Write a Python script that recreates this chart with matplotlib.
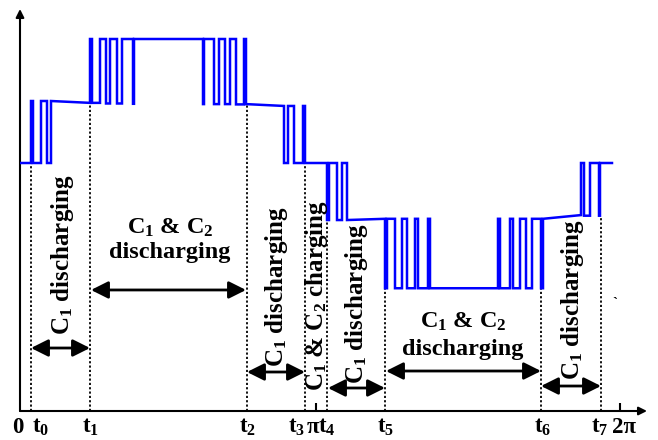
import matplotlib
matplotlib.use("Agg")
import matplotlib.pyplot as plt

plt.rcParams['font.family'] = ['Liberation Serif', 'DejaVu Serif']
plt.rcParams['font.weight'] = 'bold'
plt.rcParams['mathtext.fontset'] = 'custom'
plt.rcParams['mathtext.rm'] = 'Liberation Serif:bold'
plt.rcParams['mathtext.it'] = 'Liberation Serif:bold'
plt.rcParams['mathtext.bf'] = 'Liberation Serif:bold'

# ---- waveform: each hold starts at hold_x, runs from value hold_v0 to hold_v1 ----
hold_x = [0, 6.6, 7.8, 12.6, 16.2, 18.6, 42.0, 43.2, 48.0, 51.6, 54.0, 58.2, 61.2,
          67.8, 68.4, 109.8, 110.4, 116.4, 119.4, 123.0, 126.0, 129.6, 134.4, 135.6,
          158.4, 160.8, 164.4, 169.8, 171.0, 184.2, 185.4, 190.2, 193.2, 196.2,
          219.0, 220.2, 225.0, 229.2, 232.2, 237.0, 238.8, 244.8, 246.0, 286.8,
          288.0, 294.0, 295.8, 300.0, 303.6, 307.2, 312.6, 313.8, 336.6, 338.4,
          342.0, 347.4, 348.0]
hold_v0 = [4.0, 5.0, 4.0, 5.0, 4.0, 5.0, 6.0, 4.97, 6.0, 4.96, 6.0, 4.96, 6.0,
           4.955, 6.0, 4.95, 6.0, 4.95, 6.0, 4.95, 6.0, 4.945, 6.0, 4.95,
           4.0, 4.92, 4.0, 4.92, 4.0, 3.08, 4.0, 3.08, 4.0, 3.08,
           1.98, 3.10, 1.98, 3.10, 1.98, 3.10, 1.98, 3.10, 1.98, 3.10,
           1.98, 3.10, 1.98, 3.10, 1.98, 3.10, 1.98, 3.10, 4.0, 3.15,
           4.0, 3.15, 4.0]
hold_v1 = [4.0, 5.0, 4.0, 5.0, 4.0, 4.97, 6.0, 4.97, 6.0, 4.96, 6.0, 4.96, 6.0,
           4.955, 6.0, 4.95, 6.0, 4.95, 6.0, 4.95, 6.0, 4.945, 6.0, 4.92,
           4.0, 4.92, 4.0, 4.92, 4.0, 3.08, 4.0, 3.08, 4.0, 3.10,
           1.98, 3.10, 1.98, 3.10, 1.98, 3.10, 1.98, 3.10, 1.98, 3.10,
           1.98, 3.10, 1.98, 3.10, 1.98, 3.10, 1.98, 3.16, 4.0, 3.15,
           4.0, 3.15, 4.0]
wave_end = 355.2

# ---- instants t0..t7 and dotted guide tops ----
t_names = ['t0', 't1', 't2', 't3', 't4', 't5', 't6', 't7']
t_pos = [6.6, 42.0, 136.2, 171.0, 184.2, 219.0, 312.6, 348.6]
t_top = [4.0, 4.97, 4.95, 4.0, 3.08, 1.98, 1.98, 3.145]

# ---- axis labels ----
axis_labels = ['0', 't$_0$', 't$_1$', 't$_2$', 't$_3$', 'π', 't$_4$', 't$_5$', 't$_6$', 't$_7$', '2π']
axis_label_x = [-1.2, 12.6, 42.6, 136.8, 166.2, 175.8, 184.2, 219.6, 313.8, 348.0, 362.4]
pi_ticks = [177.6, 360.0]

# ---- interval arrows ----
arrow_x0 = [6.6, 42.6, 136.2, 184.8, 219.6, 312.6]
arrow_x1 = [42.0, 135.6, 171.0, 219.0, 312.6, 348.6]
arrow_y = [1.016, 1.952, 0.629, 0.371, 0.645, 0.403]

# ---- rotated interval labels ----
vtext = ['C$_1$ discharging', 'C$_1$ discharging', 'C$_1$ & C$_2$ charging',
         'C$_1$ discharging', 'C$_1$ discharging']
vtext_x = [25.8, 154.2, 178.2, 202.2, 331.2]
vtext_y = [2.516, 2.0, 1.855, 1.726, 1.79]

# ---- horizontal two-line labels ----
htext_x = [90.0, 265.8]
htext_y1 = [2.95, 1.435]
htext_y2 = [2.55, 0.984]

fig = plt.figure(figsize=(6.58, 4.40), dpi=100)
ax = fig.add_axes([20/658, (440-411)/440, (647-20)/658, (411-9)/440])
ax.set_xlim(0, (647-20)*0.6)
ax.set_ylim(0, (411-9)/62)
for s in ax.spines.values():
    s.set_visible(False)
ax.set_yticks([])
ax.set_xticks(pi_ticks)
ax.set_xticklabels([])
ax.tick_params(axis='x', direction='in', length=6, width=1.5, color='k')

# axes with arrows
ax.annotate('', xy=(1, 0), xytext=(0, 0), xycoords='axes fraction',
            arrowprops=dict(arrowstyle='-|>', lw=1.5, color='k', mutation_scale=12,
                            shrinkA=0, shrinkB=0), annotation_clip=False)
ax.annotate('', xy=(0, 1), xytext=(0, 0), xycoords='axes fraction',
            arrowprops=dict(arrowstyle='-|>', lw=1.5, color='k', mutation_scale=12,
                            shrinkA=0, shrinkB=0), annotation_clip=False)

# waveform vertices
xs, ys = [], []
ends = hold_x[1:] + [wave_end]
for x0, x1, v0, v1 in zip(hold_x, ends, hold_v0, hold_v1):
    xs += [x0, x1]
    ys += [v0, v1]
ax.plot(xs, ys, color='#0000ff', lw=1.8, solid_joinstyle='miter', zorder=3)

# dotted guides
ax.vlines(t_pos, 0, t_top, colors='k', linestyles=(0, (1.2, 1.2)), lw=1.3, zorder=2)

# axis labels
for lab, x in zip(axis_labels, axis_label_x):
    ax.text(x, -0.27, lab, ha='center', va='center', fontsize=16.5,
            fontweight='bold', clip_on=False)

# interval arrows
for x0, x1, y in zip(arrow_x0, arrow_x1, arrow_y):
    ax.annotate('', xy=(x1, y), xytext=(x0, y),
                arrowprops=dict(arrowstyle='<|-|>', lw=2, color='k',
                                mutation_scale=26, shrinkA=0, shrinkB=0))

for s, x, y in zip(vtext, vtext_x, vtext_y):
    ax.text(x, y, s, rotation=90, ha='center', va='center', fontsize=18,
            fontweight='bold')

for x, y1, y2 in zip(htext_x, htext_y1, htext_y2):
    ax.text(x, y1, 'C$_1$ & C$_2$', ha='center', va='center', fontsize=17.5,
            fontweight='bold')
    ax.text(x, y2, 'discharging', ha='center', va='center', fontsize=17.5,
            fontweight='bold')

ax.text(357, 1.74, '`', ha='center', va='center', fontsize=11)

fig.savefig('out.png', dpi=100)
